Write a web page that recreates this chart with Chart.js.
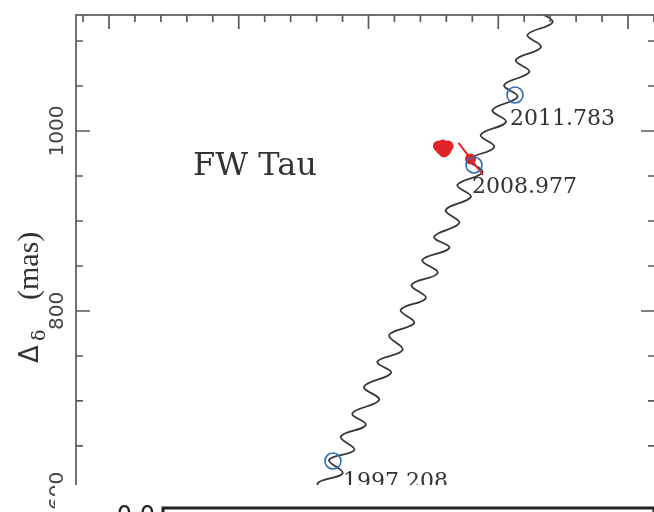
<!DOCTYPE html>
<html>
<head>
<meta charset="utf-8">
<script src="https://cdn.jsdelivr.net/npm/chart.js@4.4.1/dist/chart.umd.min.js"></script>
<style>
  html, body { margin: 0; padding: 0; background: #fff; overflow: hidden; width: 654px; height: 512px; }
  #wrap { position: relative; width: 654px; height: 512px; overflow: hidden; }
  #mainbox { position: absolute; left: 0; top: 0; width: 660px; height: 512px; }
  #lower { position: absolute; left: 55px; top: 485px; width: 599px; height: 240px; background: #fff; }
</style>
</head>
<body>
<div id="wrap">
  <div id="mainbox"><canvas id="main" width="660" height="512"></canvas></div>
  <div id="lower"><canvas id="sub" width="599" height="240"></canvas></div>
</div>
<script>
// Predicted background-star track (proper motion + parallax), offsets in mas
const trackX = [162.2, 151.8, 171.2, 160.7, 180.1, 169.6, 189.1, 178.6, 198.0, 187.6,
                208.3, 196.6, 217.3, 206.9, 226.3, 215.9, 235.3, 224.8, 244.2, 233.2,
                253.3, 241.5, 262.3, 250.6, 270.0, 259.5, 278.9, 268.5, 287.9, 277.5,
                296.9, 286.5, 305.9, 295.5, 314.9, 304.5, 323.9, 313.5, 332.9, 322.5,
                341.9, 331.5, 350.9];
const trackY = [567.2, 582.0, 593.4, 608.2, 619.7, 634.4, 645.6, 660.3, 673.3, 686.3,
                701.1, 715.9, 731.1, 743.7, 756.7, 773.3, 786.7, 801.1, 814.4, 828.9,
                842.2, 856.7, 870.0, 882.6, 897.8, 912.2, 926.7, 940.0, 954.4, 967.8,
                982.2, 995.6, 1010.0, 1023.3, 1037.8, 1051.1, 1065.6, 1078.9, 1093.3, 1106.7,
                1121.1, 1134.4, 1148.9];

// Epochs marked on the track
const epochLabels = ['1997.208', '2008.977', '2011.783'];
const epochX = [172.6, 281.3, 312.9];
const epochY = [633.3, 962.2, 1040.0];

// Measured companion positions
const compX = [253.9, 257.4, 261.3, 258.2, 259.7, 255.9];
const compY = [983.3, 984.4, 983.3, 976.7, 978.9, 980.0];
const latestX = [278.6];
const latestY = [968.9];
const segX = [269.4, 288.2];
const segY = [986.7, 951.1];

// Axis ticks
const xMajorTicks = [0, 100, 200, 300, 400];
const xMinorTicks = [-20, 20, 40, 60, 80, 120, 140, 160, 180, 220, 240, 260, 280,
                     320, 340, 360, 380, 420];
const yMajorTicks = [600, 800, 1000];
const yMinorTicks = [650, 700, 750, 850, 900, 950, 1050, 1100];
const yTitle = ['\u0394', '\u03b4', '(mas)'];
const starName = 'FW Tau';
const lowerTickLabel = '0.0';

const pts = (xs, ys) => xs.map((x, i) => ({ x: x, y: ys[i] }));

const INK = '#333333';
const FRAME = '#5a5a5a';

const framePlugin = {
  id: 'framePlugin',
  afterDatasetsDraw(chart) {
    const { ctx, chartArea: a, scales: { x, y } } = chart;
    ctx.save();
    ctx.strokeStyle = FRAME;
    ctx.lineWidth = 1.7;
    ctx.strokeRect(a.left, a.top, a.right - a.left, a.bottom - a.top);
    ctx.beginPath();
    const tickX = (v, len) => {
      const px = x.getPixelForValue(v);
      ctx.moveTo(px, a.top); ctx.lineTo(px, a.top + len);
      ctx.moveTo(px, a.bottom); ctx.lineTo(px, a.bottom - len);
    };
    const tickY = (v, len) => {
      const py = y.getPixelForValue(v);
      ctx.moveTo(a.left, py); ctx.lineTo(a.left + len, py);
      ctx.moveTo(a.right, py); ctx.lineTo(a.right - len, py);
    };
    xMajorTicks.forEach(v => tickX(v, 14));
    xMinorTicks.forEach(v => tickX(v, 7));
    yMajorTicks.forEach(v => tickY(v, 14));
    yMinorTicks.forEach(v => tickY(v, 7));
    ctx.stroke();

    // rotated y tick labels
    ctx.fillStyle = '#444';
    ctx.font = '20px "DejaVu Sans"';
    ctx.textAlign = 'center';
    ctx.textBaseline = 'alphabetic';
    yMajorTicks.forEach(v => {
      ctx.save();
      ctx.translate(63, y.getPixelForValue(v));
      ctx.rotate(-Math.PI / 2);
      ctx.fillText(String(v), 0, 0);
      ctx.restore();
    });

    // y axis title: Delta with subscript delta, then unit
    ctx.save();
    ctx.translate(38, 0);
    ctx.rotate(-Math.PI / 2);
    ctx.fillStyle = INK;
    ctx.textAlign = 'left';
    ctx.font = '26px "DejaVu Sans"';
    ctx.fillText(yTitle[0], -363, 0);
    ctx.font = '19px "DejaVu Serif"';
    ctx.fillText(yTitle[1], -341, 7);
    ctx.font = '30px "Liberation Serif"';
    ctx.fillText(yTitle[2], -300, 0);
    ctx.restore();

    // object name
    ctx.fillStyle = INK;
    ctx.font = '32px "DejaVu Serif"';
    ctx.textAlign = 'left';
    ctx.textBaseline = 'alphabetic';
    ctx.fillText(starName, 193, 175);

    // epoch labels next to their circles
    const offs = chart.options.plugins.framePlugin.labelOffsets;
    ctx.font = '22px "DejaVu Serif"';
    ctx.textBaseline = 'middle';
    epochLabels.forEach((t, i) => {
      const px = x.getPixelForValue(epochX[i]);
      const py = y.getPixelForValue(epochY[i]);
      ctx.fillText(t, px + offs[i][0], py + offs[i][1]);
    });
    ctx.restore();
  }
};

new Chart(document.getElementById('main'), {
  data: {
    datasets: [
      {
        type: 'line',
        data: pts(trackX, trackY),
        borderColor: '#363636',
        borderWidth: 1.8,
        pointRadius: 0,
        tension: 0.4,
        fill: false,
        order: 5
      },
      {
        type: 'line',
        data: pts(segX, segY),
        borderColor: '#e0262b',
        borderWidth: 2,
        pointRadius: 0,
        fill: false,
        order: 3
      },
      {
        type: 'scatter',
        data: pts(compX, compY),
        pointRadius: 5.5,
        pointBackgroundColor: '#e3232a',
        pointBorderWidth: 0,
        order: 2
      },
      {
        type: 'scatter',
        data: pts(latestX, latestY),
        pointRadius: 5.5,
        pointBackgroundColor: '#e3232a',
        pointBorderWidth: 0,
        order: 2
      },
      {
        type: 'scatter',
        data: pts(epochX, epochY),
        pointRadius: 8,
        pointBackgroundColor: 'rgba(0,0,0,0)',
        pointBorderColor: '#2f6cb8',
        pointBorderWidth: 1.6,
        order: 1
      }
    ]
  },
  options: {
    responsive: false,
    animation: false,
    events: [],
    devicePixelRatio: 1,
    layout: { autoPadding: false, padding: { left: 76, top: 15, right: 5, bottom: 7 } },
    scales: {
      x: { type: 'linear', display: false, min: -25.43, max: 420.8 },
      y: { type: 'linear', display: false, min: 584.4, max: 1128.9 }
    },
    plugins: {
      legend: { display: false },
      tooltip: { enabled: false },
      framePlugin: { labelOffsets: [[10, 21], [-2, 22], [-5, 24]] }
    }
  },
  plugins: [framePlugin]
});

// lower panel (only its top edge shows)
const subFrame = {
  id: 'subFrame',
  afterDraw(chart) {
    const { ctx, chartArea: a } = chart;
    ctx.save();
    ctx.strokeStyle = '#222';
    ctx.lineWidth = 3;
    ctx.strokeRect(a.left, a.top, a.right - a.left, a.bottom - a.top);
    ctx.restore();
  }
};

new Chart(document.getElementById('sub'), {
  type: 'scatter',
  data: { datasets: [{ data: [] }] },
  options: {
    responsive: false,
    animation: false,
    events: [],
    devicePixelRatio: 1,
    layout: { autoPadding: false, padding: { left: 0, top: 23, right: 0, bottom: 10 } },
    scales: {
      x: { type: 'linear', display: false, min: 0, max: 1 },
      y: {
        type: 'linear', min: -1, max: 0.045,
        afterBuildTicks: s => { s.ticks = [{ value: 0 }]; },
        afterFit: s => { s.width = 108; },
        grid: { display: false },
        border: { display: false },
        ticks: {
          padding: 0,
          color: '#222',
          font: { family: 'DejaVu Sans', size: 24 },
          callback: () => lowerTickLabel
        }
      }
    },
    plugins: { legend: { display: false }, tooltip: { enabled: false } }
  },
  plugins: [subFrame]
});
</script>
</body>
</html>
